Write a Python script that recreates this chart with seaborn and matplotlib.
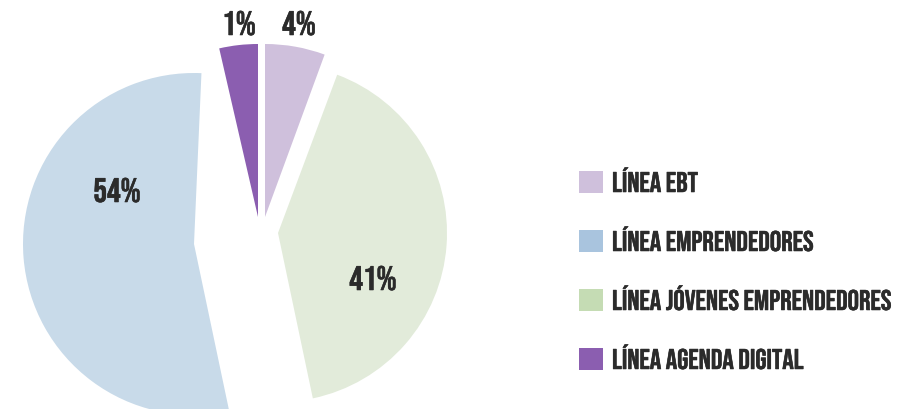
import matplotlib
matplotlib.use('Agg')
import matplotlib.pyplot as plt
import matplotlib.patheffects as pe
from matplotlib.patches import Patch
import seaborn as sns

# Slices, clockwise from the top of the pie
slices = ['LÍNEA EBT', 'LÍNEA JÓVENES EMPRENDEDORES', 'LÍNEA EMPRENDEDORES', 'LÍNEA AGENDA DIGITAL']
pct_labels = ['4%', '41%', '54%', '1%']
# Wedge widths as drawn (% of circle) - the two small lines are drawn wider than their share
wedge_pct = [5.6, 41, 54, 3.6]

# Legend order
legend_names = ['LÍNEA EBT', 'LÍNEA EMPRENDEDORES', 'LÍNEA JÓVENES EMPRENDEDORES', 'LÍNEA AGENDA DIGITAL']

pie_colors = {'LÍNEA EBT': '#CFC0DC', 'LÍNEA JÓVENES EMPRENDEDORES': '#E2EBDA',
              'LÍNEA EMPRENDEDORES': '#C8DAE9', 'LÍNEA AGENDA DIGITAL': '#8B5EB0'}
legend_colors = {'LÍNEA EBT': '#CFC0DC', 'LÍNEA EMPRENDEDORES': '#A9C4DE',
                 'LÍNEA JÓVENES EMPRENDEDORES': '#C5DCB4', 'LÍNEA AGENDA DIGITAL': '#8B5EB0'}

sns.set_theme(style='white')
plt.rcParams['font.family'] = ['Bebas Neue', 'Oswald', 'Anton', 'DejaVu Sans']
text_col = '#2B2B2B'
# a thin stroke to get the heavier look of the original lettering
heavy = [pe.withStroke(linewidth=0.4, foreground=text_col)]

W, H = 911, 409
fig = plt.figure(figsize=(W / 100, H / 100), dpi=100)
ax = fig.add_axes([0, 0, 1, 1])

# each wedge is pulled apart on its own (pixel units, y up)
starts = [0, 20.5, 20.5 + wedge_pct[1] * 3.6, -wedge_pct[3] * 3.6]  # clockwise from top
centers = [(265, 192), (278, 176), (194, 165), (258, 192)]
radii = [173, 169, 171, 173]

for name, share, st, c, r in zip(slices, wedge_pct, starts, centers, radii):
    ax.pie([share / 100], startangle=90 - st, counterclock=False, normalize=False,
           colors=[pie_colors[name]], radius=r, center=c, wedgeprops={'linewidth': 0})

# percentage labels
label_pos = [(299, 386), (373, 131), (117, 219), (239, 386)]
for txt, (x, y) in zip(pct_labels, label_pos):
    ax.text(x, y, txt, ha='center', va='center', fontsize=24.5, fontweight='bold',
            color=text_col, path_effects=heavy)

ax.set_xlim(0, W)
ax.set_ylim(0, H)
ax.set_aspect('auto')
ax.axis('off')

handles = [Patch(facecolor=legend_colors[n], edgecolor='none') for n in legend_names]
leg = fig.legend(handles, legend_names, loc='upper left', bbox_to_anchor=(579 / W, 1 - 168 / H),
                 frameon=False, prop={'size': 20.5, 'weight': 'bold'}, labelcolor=text_col,
                 handlelength=0.84, handleheight=0.84, handletextpad=0.32, labelspacing=1.18,
                 borderpad=0, borderaxespad=0)
for t in leg.get_texts():
    t.set_path_effects(heavy)

fig.savefig('out.png', dpi=100)
